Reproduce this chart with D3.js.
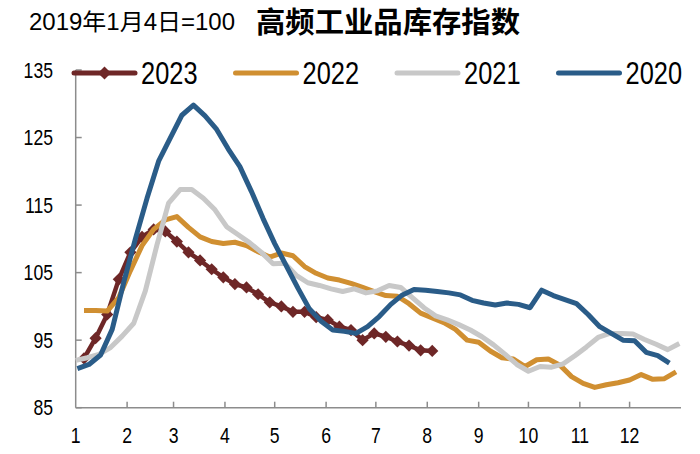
<!DOCTYPE html>
<html><head><meta charset="utf-8">
<script src="https://cdn.jsdelivr.net/npm/d3@7"></script>
<style>html,body{margin:0;padding:0;background:#fff;}svg{display:block;}</style>
</head><body><svg id="chart" width="700" height="454"></svg>
<script>
// ---- data ----
const subtitle = "2019年1月4日=100";
const title = "高频工业品库存指数";
const monthLabels = ["1","2","3","4","5","6","7","8","9","10","11","12"];
const monthStartDays = [1,32,60,91,121,152,182,213,244,274,305,335];
const yTicks = [85,95,105,115,125,135];
const seriesNames = ["2023","2022","2021","2020"];
const seriesColors = ["#6E2727","#D08F31","#C8C8C8","#2A5C88"];
const firstDays = [6,6,1,2];
const v2023 = [92.3,95.3,98.8,104,108,110.3,111.4,111.1,109.6,108,106.8,105.5,104.3,103.3,102.8,101.8,100.6,100,99.2,99.2,98.4,98,97,96.5,95,96,95.5,94.8,94.2,93.5,93.4];
const v2022 = [99.4,99.4,99.3,101.3,105.3,109,111.4,112.8,113.3,111.7,110.3,109.6,109.3,109.5,109,108.1,107.3,107.9,107.5,105.9,104.9,104.2,103.9,103.4,102.8,102.2,101.6,101.5,100.4,99,98.3,97.6,96.6,95,94.7,93.4,92.4,92.2,91.1,92.1,92.2,91.3,89.6,88.6,88,88.4,88.7,89.1,89.9,89.2,89.3,90.3];
const v2021 = [92.0,92.4,92.9,93.9,95.6,97.5,102.3,109.1,115.3,117.3,117.3,116,114.3,111.8,110.6,109.4,108,106.3,106.4,104.6,103.5,103.1,102.6,102.2,102.6,102,102.3,103.1,102.8,101.3,99.8,98.6,98,97.3,96.5,95.5,94.3,92.9,91.4,90.4,91.1,91.0,91.5,92.7,94,95.4,96,96,95.9,95.1,94.4,93.6,94.5];
const v2020 = [90.8,91.4,92.8,96.6,103.6,110,116,121.5,124.9,128.3,129.8,128.2,126.2,123.3,120.7,117,113,109.3,106,102.7,99.6,97.8,96.5,96.3,96.0,97,98.5,100.3,101.7,102.5,102.4,102.2,102,101.7,100.9,100.5,100.2,100.5,100.3,99.8,102.4,101.6,101,100.4,98.8,97,96,95,94.9,93.2,92.7,91.6];
const seriesValues = [v2023, v2022, v2021, v2020];

// ---- font detection ----
function hasFont(name){
  const c=document.createElement("canvas").getContext("2d");
  c.font="40px monospace"; const a=c.measureText("2023abcW").width;
  c.font=`40px "${name}", monospace`; const b=c.measureText("2023abcW").width;
  return a!==b;
}
const narrowOK = hasFont("Liberation Sans Narrow");
const FONT = narrowOK ? '"Liberation Sans Narrow", "Noto Sans CJK SC", sans-serif' : '"Liberation Sans", Arial, "Noto Sans CJK SC", sans-serif';
const SX = narrowOK ? 1 : 0.82;

const svg = d3.select("#chart");
const x = d3.scaleLinear().domain([1,366]).range([75.7,681]);
const y = d3.scaleLinear().domain([85,135]).range([407.7,70]);

function txt(g, s, px, py, size, anchor, opts={}){
  const t = g.append("text")
    .attr("transform",`translate(${px},${py}) scale(${opts.sx ?? SX},1)`)
    .attr("text-anchor",anchor)
    .attr("font-family", opts.family || FONT)
    .attr("font-size", size)
    .attr("font-weight", opts.weight || "normal")
    .attr("fill","#000")
    .text(s);
  if(opts.len){ t.attr("textLength", opts.len).attr("lengthAdjust","spacingAndGlyphs"); }
  return t;
}

// titles
txt(svg, subtitle, 29, 30, 23, "start", {sx:1, len:206});
txt(svg, title, 256, 33, 29, "start", {family:'"Noto Sans CJK SC", sans-serif', weight:"bold", sx:1, len:264});

// axes
const axisColor = "#8C8C8C";
svg.append("line").attr("x1",x(1)).attr("x2",x(1)).attr("y1",y(135)).attr("y2",y(85))
  .attr("stroke",axisColor).attr("stroke-width",1.5);
svg.append("line").attr("x1",x(1)).attr("x2",x(366)).attr("y1",y(85)).attr("y2",y(85))
  .attr("stroke",axisColor).attr("stroke-width",1.5);
svg.selectAll(".yt").data(yTicks).enter().append("line")
  .attr("x1",x(1)).attr("x2",x(1)+6).attr("y1",d=>y(d)).attr("y2",d=>y(d))
  .attr("stroke",axisColor).attr("stroke-width",1.5);
svg.selectAll(".xt").data(monthStartDays.slice(1)).enter().append("line")
  .attr("x1",d=>x(d)).attr("x2",d=>x(d)).attr("y1",y(85)).attr("y2",y(85)-6)
  .attr("stroke",axisColor).attr("stroke-width",1.5);
yTicks.forEach(v=>txt(svg, String(v), 53, y(v)+7.5, 21.5, "end"));
monthStartDays.forEach((d,i)=>txt(svg, monthLabels[i], x(d), 443, 21.5, "middle"));

// lines: Excel order, later series on top
const line = d3.line().x(d=>x(d.day)).y(d=>y(d.v));
[0,1,2,3].forEach(si=>{
  const pts = seriesValues[si].map((v,i)=>({day:firstDays[si]+7*i, v}));
  svg.append("path").datum(pts).attr("d",line).attr("fill","none")
    .attr("stroke",seriesColors[si]).attr("stroke-width", si===0?4.5:5)
    .attr("stroke-linejoin","round");
  if(si===0){
    svg.selectAll(".mk").data(pts).enter().append("path")
      .attr("d", d3.symbol().type(d3.symbolDiamond2).size(95))
      .attr("transform",d=>`translate(${x(d.day)},${y(d.v)})`)
      .attr("fill",seriesColors[0]);
  }
});

// legend
const legX = [74,235.5,397,558.5];
const legY = 73;
seriesNames.forEach((n,i)=>{
  svg.append("line").attr("x1",legX[i]).attr("x2",legX[i]+61).attr("y1",legY).attr("y2",legY)
    .attr("stroke",seriesColors[i]).attr("stroke-width",5).attr("stroke-linecap","round");
  if(i===0){
    svg.append("path").attr("d", d3.symbol().type(d3.symbolDiamond2).size(110))
      .attr("transform",`translate(${legX[i]+30.5},${legY})`).attr("fill",seriesColors[0]);
  }
  txt(svg, n, legX[i]+67, legY+11, 31, "start");
});
</script></body></html>
